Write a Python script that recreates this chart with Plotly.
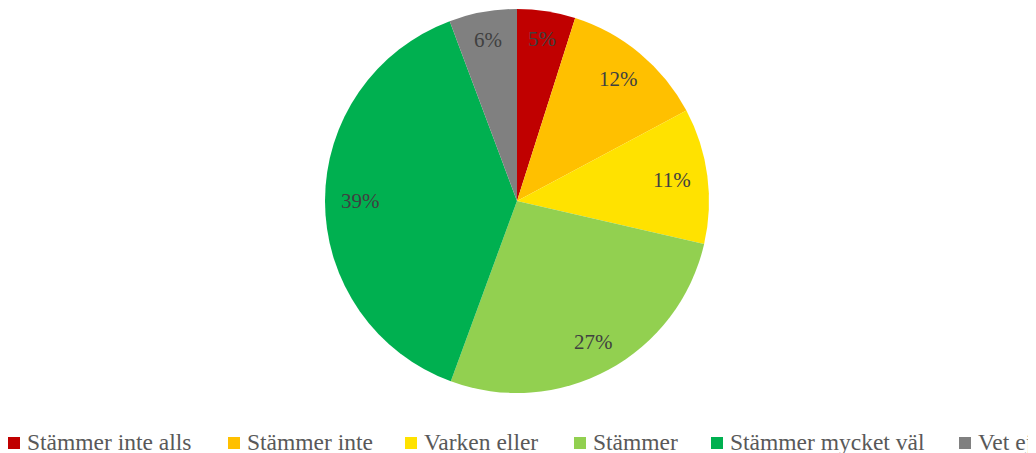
import math
import plotly.graph_objects as go

categories = ["Stämmer inte alls", "Stämmer inte", "Varken eller", "Stämmer", "Stämmer mycket väl", "Vet ej"]
values = [4.9, 12.3, 11.4, 27.0, 38.7, 5.7]
colors = ["#C00000", "#FFC000", "#FFE200", "#92D050", "#00B050", "#808080"]

W, H = 1036, 453
OFF = 8  # page body margin in the browser
cx, cy, R = 517 - OFF, 201 - OFF, 192
FONT = "Liberation Serif, Times New Roman, serif"

fig = go.Figure(go.Pie(
    labels=categories, values=values, sort=False, direction="clockwise", rotation=0,
    marker=dict(colors=colors, line=dict(width=0)),
    textinfo="none", hoverinfo="label+percent", showlegend=False,
    domain=dict(x=[(cx - R) / W, (cx + R) / W], y=[(H - cy - R) / H, (H - cy + R) / H]),
))

annotations = []
shapes = []
total = sum(values)
cum = 0
lbl_size = 21
for v in values:
    mid = (cum + v / 2) / total * 2 * math.pi
    cum += v
    txt = f"{round(v / total * 100)}%"
    r = 0.86 * R - 9 * abs(math.sin(mid))
    px = cx + r * math.sin(mid)
    py = cy - r * math.cos(mid)
    annotations.append(dict(x=px / W, y=1 - py / H, xref="paper", yref="paper", text=txt,
                            showarrow=False, xanchor="center", yanchor="middle",
                            font=dict(family=FONT, size=lbl_size, color="#404040")))

# legend (horizontal, bottom, overflowing to the right as in the reference)
leg_sq_x = [8, 228, 405, 574, 711, 959]
leg_y = 443 - OFF
for cat, col, sx in zip(categories, colors, leg_sq_x):
    sx -= OFF
    shapes.append(dict(type="rect", xref="paper", yref="paper",
                       x0=sx / W, x1=(sx + 12) / W, y0=1 - (leg_y + 6) / H, y1=1 - (leg_y - 6) / H,
                       fillcolor=col, line=dict(width=0)))
    annotations.append(dict(x=(sx + 17) / W, y=1 - (leg_y - 1) / H, xref="paper", yref="paper", text=cat,
                            showarrow=False, xanchor="left", yanchor="middle",
                            font=dict(family=FONT, size=23.5, color="#595959")))

fig.update_layout(width=W, height=H, margin=dict(l=0, r=0, t=0, b=0),
                  paper_bgcolor="white", plot_bgcolor="white",
                  annotations=annotations, shapes=shapes)
fig.write_html("out.html")
